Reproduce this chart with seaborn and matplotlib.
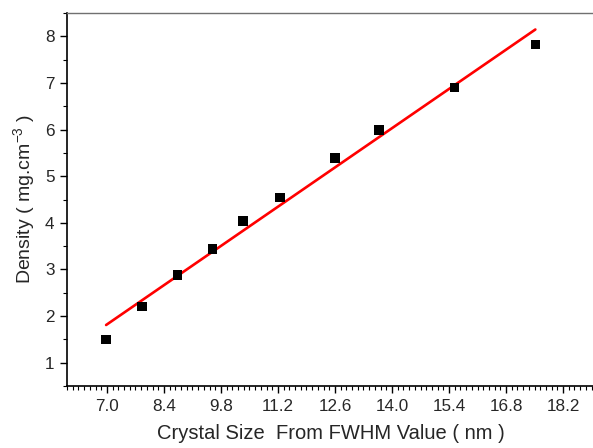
import matplotlib
matplotlib.use("Agg")
import matplotlib.pyplot as plt
import seaborn as sns
import pandas as pd
from matplotlib.ticker import MultipleLocator, FixedLocator

crystal_size = [6.98, 7.86, 8.74, 9.60, 10.34, 11.25, 12.60, 13.68, 15.53, 17.52]
density = [1.49, 2.20, 2.88, 3.44, 4.04, 4.55, 5.39, 5.99, 6.91, 7.83]
x_ticks = [7.0, 8.4, 9.8, 11.2, 12.6, 14.0, 15.4, 16.8, 18.2]
y_ticks = [1, 2, 3, 4, 5, 6, 7, 8]

df = pd.DataFrame({"size": crystal_size, "density": density})

sns.set_style("white")
plt.rcParams["font.family"] = ["Liberation Sans", "DejaVu Sans"]
plt.rcParams["mathtext.fontset"] = "custom"
plt.rcParams["mathtext.rm"] = "Liberation Sans"
plt.rcParams["mathtext.it"] = "Liberation Sans"

fig = plt.figure(figsize=(5.93, 4.48), dpi=100)
ax = fig.add_axes([67/593, 62/448, 549/593, 373/448])

sns.regplot(data=df, x="size", y="density", ax=ax, ci=None, truncate=True,
            marker="s",
            scatter_kws=dict(color="black", s=44, edgecolors="none", alpha=1, zorder=3),
            line_kws=dict(color="#ff0000", lw=1.9, zorder=2))

ax.set_xlim(6.02, 19.5)
ax.set_ylim(0.5, 8.5)
ax.xaxis.set_major_locator(FixedLocator(x_ticks))
ax.xaxis.set_minor_locator(MultipleLocator(0.14))
ax.yaxis.set_major_locator(FixedLocator(y_ticks))
ax.yaxis.set_minor_locator(MultipleLocator(0.5))
ax.set_xticklabels([f"{v:.1f}" for v in x_ticks])
ax.set_yticklabels([str(v) for v in y_ticks])

ax.tick_params(axis="both", which="major", direction="out", length=5, width=1.0,
               color="black", labelsize=12.3, pad=4, bottom=True, left=True)
ax.tick_params(axis="both", which="minor", direction="out", length=3, width=0.8,
               color="black", bottom=True, left=True)

for side in ["left", "bottom"]:
    ax.spines[side].set_color("black")
    ax.spines[side].set_linewidth(1.2)
ax.spines["top"].set_color("#707070")
ax.spines["top"].set_linewidth(1.0)
ax.spines["right"].set_visible(False)

ax.set_xlabel("Crystal Size  From FWHM Value ( nm )", fontsize=14.5)
ax.xaxis.set_label_coords(0.481, -0.103)
ax.set_ylabel("Density ( mg.cm$^{-3}$ )", fontsize=14, labelpad=6)

fig.savefig("out.png", dpi=100)
